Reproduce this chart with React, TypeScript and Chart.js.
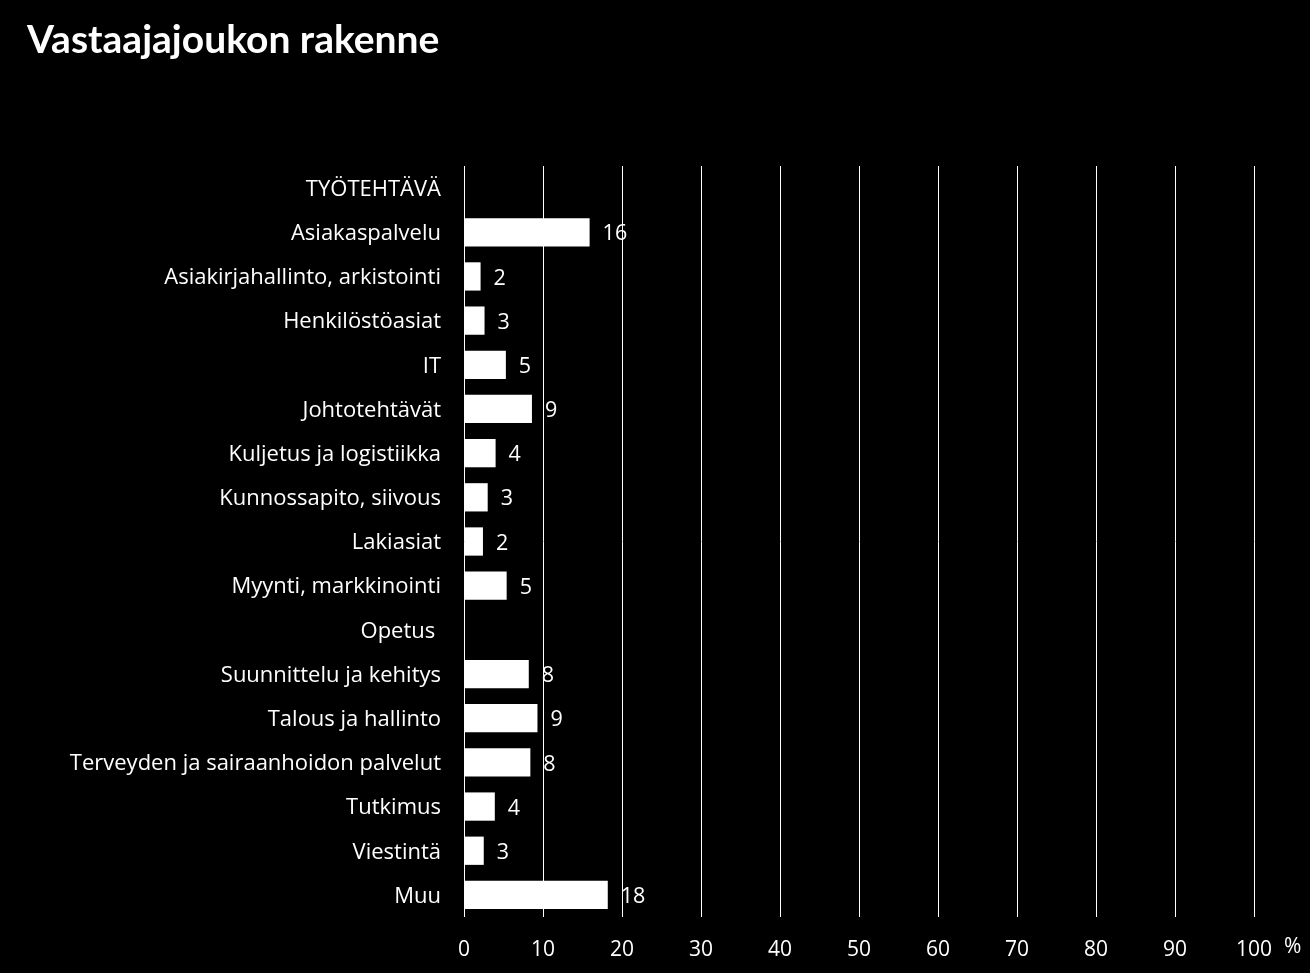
import React, { useEffect, useRef } from "react";
import { Chart, registerables } from "chart.js";

Chart.register(...registerables);

const TITLE = "Vastaajajoukon rakenne";
const UNIT = "%";

const categories: string[] = [
  "TYÖTEHTÄVÄ",
  "Asiakaspalvelu",
  "Asiakirjahallinto, arkistointi",
  "Henkilöstöasiat",
  "IT",
  "Johtotehtävät",
  "Kuljetus ja logistiikka",
  "Kunnossapito, siivous",
  "Lakiasiat",
  "Myynti, markkinointi",
  "Opetus ",
  "Suunnittelu ja kehitys",
  "Talous ja hallinto",
  "Terveyden ja sairaanhoidon palvelut",
  "Tutkimus",
  "Viestintä",
  "Muu",
];

const values: (number | null)[] = [
  null, 15.9, 2.1, 2.6, 5.3, 8.6, 4.0, 3.0, 2.4, 5.4, null, 8.2, 9.3, 8.4, 3.9, 2.5, 18.2,
];

const valueLabels: string[] = [
  "", "16", "2", "3", "5", "9", "4", "3", "2", "5", "", "8", "9", "8", "4", "3", "18",
];

const xTicks: number[] = [0, 10, 20, 30, 40, 50, 60, 70, 80, 90, 100];

const FONT = "'Open Sans', 'Noto Sans', sans-serif";
const TITLE_FONT = "Lato, 'Open Sans', sans-serif";

export default function App() {
  const ref = useRef<HTMLCanvasElement | null>(null);

  useEffect(() => {
    if (!ref.current) return;

    const extras = {
      id: "extras",
      beforeDraw(chart: any) {
        const ctx = chart.ctx;
        ctx.save();
        ctx.fillStyle = "#000";
        ctx.fillRect(0, 0, chart.width, chart.height);
        ctx.restore();
      },
      afterDatasetsDraw(chart: any) {
        const ctx = chart.ctx;
        const meta = chart.getDatasetMeta(0);
        ctx.save();
        ctx.fillStyle = "#fff";
        ctx.font = `21.5px ${FONT}`;
        ctx.textAlign = "left";
        ctx.textBaseline = "middle";
        meta.data.forEach((bar: any, i: number) => {
          const t = valueLabels[i];
          if (!t || values[i] == null) return;
          ctx.fillText(t, bar.x + 13, bar.y + 2);
        });
        ctx.restore();
      },
      afterDraw(chart: any) {
        const ctx = chart.ctx;
        ctx.save();
        ctx.fillStyle = "#fff";
        ctx.font = `bold 39px ${TITLE_FONT}`;
        ctx.textAlign = "left";
        ctx.textBaseline = "alphabetic";
        ctx.fillText(TITLE, 27, 53);
        ctx.font = `21px ${FONT}`;
        ctx.textBaseline = "middle";
        ctx.fillText(UNIT, 1284, 947);
        ctx.restore();
      },
    };

    const chart = new Chart(ref.current, {
      type: "bar",
      data: {
        labels: categories,
        datasets: [
          {
            data: values as any,
            backgroundColor: "#ffffff",
            borderWidth: 0,
            categoryPercentage: 1,
            barPercentage: 0.64,
          },
        ],
      },
      options: {
        indexAxis: "y",
        responsive: false,
        animation: false,
        layout: { padding: { left: 0, top: 166, right: 56, bottom: 0 } },
        plugins: {
          legend: { display: false },
          tooltip: { enabled: false },
          title: { display: false },
        },
        scales: {
          x: {
            min: 0,
            max: 100,
            afterFit(scale: any) {
              scale.height = 56;
            },
            afterBuildTicks(scale: any) {
              scale.ticks = xTicks.map((v) => ({ value: v }));
            },
            grid: { color: "#ffffff", lineWidth: 1, drawTicks: false },
            border: { display: false },
            ticks: {
              color: "#ffffff",
              font: { family: FONT, size: 21 },
              padding: 20,
              maxRotation: 0,
            },
          },
          y: {
            afterFit(scale: any) {
              scale.width = 464;
            },
            grid: { display: false, drawTicks: false },
            border: { display: false },
            ticks: {
              color: "#ffffff",
              font: { family: FONT, size: 22 },
              padding: 23,
              labelOffset: 1.5,
              autoSkip: false,
            },
          },
        },
      },
      plugins: [extras],
    });

    return () => chart.destroy();
  }, []);

  return (
    <canvas
      ref={ref}
      width={1310}
      height={973}
      style={{ position: "absolute", left: 0, top: 0, background: "#000" }}
    />
  );
}
